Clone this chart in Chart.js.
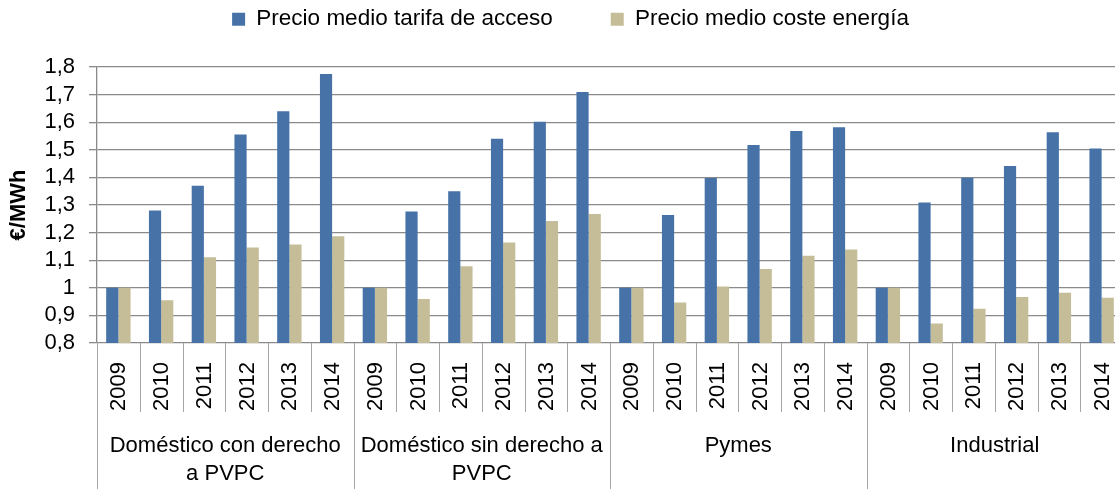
<!DOCTYPE html>
<html>
<head>
<meta charset="utf-8">
<script src="https://cdn.jsdelivr.net/npm/chart.js@4"></script>
<style>
  html, body { margin: 0; padding: 0; background: #fff; overflow: hidden; }
  #wrap { width: 1123px; height: 489px; }
</style>
</head>
<body>
<div id="wrap"><canvas id="chart" width="1123" height="489"></canvas></div>
<script>
const years = ['2009', '2010', '2011', '2012', '2013', '2014'];
const groups = [
  ['Doméstico con derecho', 'a PVPC'],
  ['Doméstico sin derecho a', 'PVPC'],
  ['Pymes'],
  ['Industrial']
];
// Precio medio tarifa de acceso (índice 2009 = 1)
const tarifaAcceso = [
  1.00, 1.28, 1.37, 1.555, 1.64, 1.775,
  1.00, 1.276, 1.35, 1.54, 1.602, 1.709,
  1.00, 1.264, 1.398, 1.517, 1.568, 1.582,
  1.00, 1.309, 1.399, 1.441, 1.564, 1.505
];
// Precio medio coste energía
const costeEnergia = [
  1.00, 0.955, 1.111, 1.146, 1.157, 1.187,
  1.00, 0.959, 1.078, 1.164, 1.242, 1.267,
  1.00, 0.947, 1.005, 1.068, 1.116, 1.139,
  1.00, 0.871, 0.924, 0.967, 0.982, 0.964
];
const yTicks = [0.8, 0.9, 1, 1.1, 1.2, 1.3, 1.4, 1.5, 1.6, 1.7, 1.8];

const labels = [];
groups.forEach(() => years.forEach(y => labels.push(y)));

const FONT = 'Liberation Sans';
const gridColor = '#8a8a8a';
const sepColor = '#a6a6a6';

// etiquetas del eje X en dos niveles (años + grupo)
const xLabelsPlugin = {
  id: 'xLabels',
  afterDraw(chart) {
    const { ctx, chartArea } = chart;
    const x = chart.scales.x;
    const axisY = chartArea.bottom;
    const step = x.getPixelForValue(1) - x.getPixelForValue(0);
    ctx.save();
    ctx.strokeStyle = sepColor;
    ctx.lineWidth = 1;
    ctx.fillStyle = '#000';
    ctx.font = '22px ' + FONT;

    labels.forEach((lab, i) => {
      const cx = x.getPixelForValue(i);
      const left = Math.round(cx - step / 2) + 0.5;
      const groupStart = i % years.length === 0;
      ctx.beginPath();
      ctx.moveTo(left, axisY);
      ctx.lineTo(left, groupStart ? chart.height : axisY + 69);
      ctx.stroke();

      ctx.save();
      ctx.translate(cx, axisY + 19);
      ctx.rotate(-Math.PI / 2);
      ctx.textAlign = 'right';
      ctx.textBaseline = 'middle';
      ctx.fillText(lab, 0, 1);
      ctx.restore();
    });
    const lastRight = Math.round(x.getPixelForValue(labels.length - 1) + step / 2) + 0.5;
    ctx.beginPath();
    ctx.moveTo(lastRight, axisY);
    ctx.lineTo(lastRight, chart.height);
    ctx.stroke();

    ctx.textAlign = 'center';
    ctx.textBaseline = 'middle';
    groups.forEach((lines, g) => {
      const a = x.getPixelForValue(g * years.length);
      const b = x.getPixelForValue(g * years.length + years.length - 1);
      const cx = (a + b) / 2;
      lines.forEach((t, k) => ctx.fillText(t, cx, axisY + 103 + k * 28));
    });
    ctx.restore();
  }
};

// leyenda: altura fija y separación amplia entre elementos
const LEG_PAD = 58;
const legendLayout = {
  id: 'legendLayout',
  beforeInit(chart) {
    const fit = chart.legend.fit;
    chart.legend.fit = function () {
      fit.call(this);
      this.height = 67;
    };
  },
  afterLayout(chart) {
    chart.legend.top = 8 - LEG_PAD;
    chart.legend.left += 9;
    chart.legend.right += 9;
  }
};

new Chart(document.getElementById('chart'), {
  type: 'bar',
  data: {
    labels: labels,
    datasets: [
      {
        label: 'Precio medio tarifa de acceso',
        data: tarifaAcceso,
        backgroundColor: '#4672A8',
        borderWidth: 0
      },
      {
        label: 'Precio medio coste energía',
        data: costeEnergia,
        backgroundColor: '#C4BD97',
        borderWidth: 0
      }
    ]
  },
  options: {
    responsive: false,
    animation: false,
    devicePixelRatio: 1,
    categoryPercentage: 0.57,
    barPercentage: 1.0,
    layout: { padding: { left: 0, right: 0, top: 0, bottom: 146 } },
    plugins: {
      legend: {
        position: 'top',
        labels: {
          boxWidth: 13,
          boxHeight: 13,
          padding: LEG_PAD,
          color: '#000',
          font: { family: FONT, size: 22.5 }
        }
      },
      tooltip: { enabled: false }
    },
    scales: {
      x: {
        grid: { display: false },
        ticks: { display: false },
        border: { display: false },
        afterFit(scale) { scale.height = 0; }
      },
      y: {
        min: 0.8,
        max: 1.8,
        afterBuildTicks(scale) {
          scale.ticks = yTicks.map(v => ({ value: v }));
        },
        afterFit(scale) { scale.width = 97; },
        grid: { color: gridColor, lineWidth: 1.3, tickLength: 8 },
        border: { color: gridColor, width: 1.3 },
        ticks: {
          color: '#000',
          padding: 14,
          autoSkip: false,
          font: { family: FONT, size: 22 },
          callback: v => String(Number(v.toFixed(1))).replace('.', ',')
        },
        title: {
          display: true,
          text: '€/MWh',
          color: '#000',
          padding: { top: 6, bottom: 0 },
          font: { family: FONT, size: 22, weight: 'bold' }
        }
      }
    }
  },
  plugins: [legendLayout, xLabelsPlugin]
});
</script>
</body>
</html>
